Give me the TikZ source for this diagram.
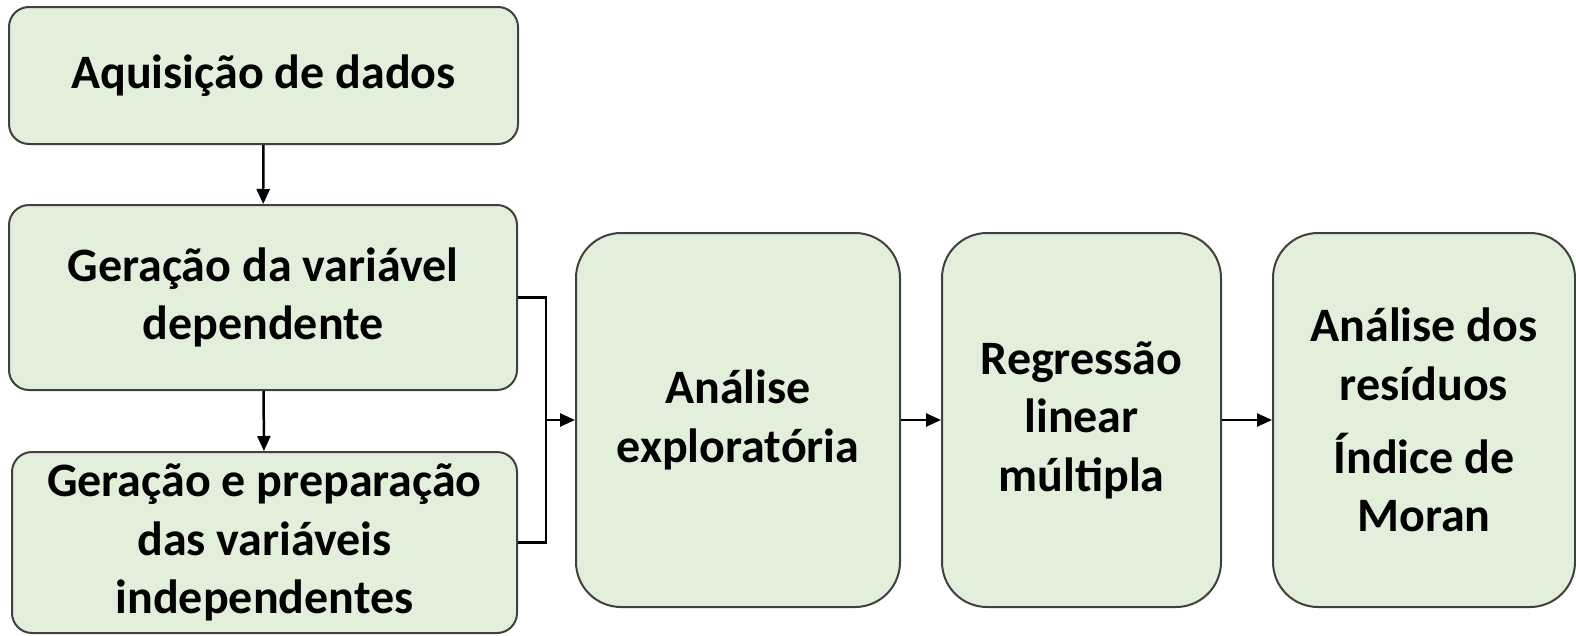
\documentclass[tikz,border=0pt]{standalone}
\usepackage{fontspec}
\setmainfont{Carlito}
\usepackage{tikz}
\usetikzlibrary{calc,arrows.meta}

\begin{document}
\begin{tikzpicture}[x=1pt, y=-1pt,
    stage/.style={draw=black!75, line width=2pt, fill={rgb,255:red,226;green,239;blue,218},
      rounded corners=20pt, align=center, inner sep=0pt,
      font=\fontsize{48}{58.5}\selectfont\bfseries},
    tall/.style={stage, rounded corners=45pt, minimum height=374pt},
    flow/.style={line width=2.5pt, -{Triangle[length=15pt, width=13pt]}}]
      \useasboundingbox (0, 0) rectangle (1576, 635);
      \node[stage, minimum width=509pt, minimum height=137pt] (aquis) at (263.5, 75.5) {Aquisição de dados};
      \node[stage, minimum width=508pt, minimum height=185pt] (gerdep) at (263, 297.5) {Geração da variável\\dependente};
      \node[stage, minimum width=505pt, minimum height=181pt] (gerind) at (264.5, 542.5) {Geração e preparação\\das variáveis\\independentes};
      \node[tall, minimum width=324pt] (explo) at (738, 420) {Análise\\exploratória};
      \node[tall, minimum width=279pt] (regr) at (1081.5, 420) {Regressão\\linear\\múltipla};
      \node[tall, minimum width=302pt] (resid) at (1424, 420) {Análise dos\\resíduos\\[0.3em]Índice de\\Moran};
      \draw[flow] (aquis) -- (gerdep);
      \draw[flow] (gerdep) -- (gerind);
      \draw[line width=2.5pt] (gerdep.east) -- ++(28, 0) |- (gerind.east);
      \coordinate (merge) at ($(gerdep.east)!0.5!(gerind.east) + (28, 0)$);
      \draw[flow] (merge) -- (merge -| explo.west);
      \draw[flow] (explo) -- (regr);
      \draw[flow] (regr) -- (resid);
    \end{tikzpicture}
\end{document}
